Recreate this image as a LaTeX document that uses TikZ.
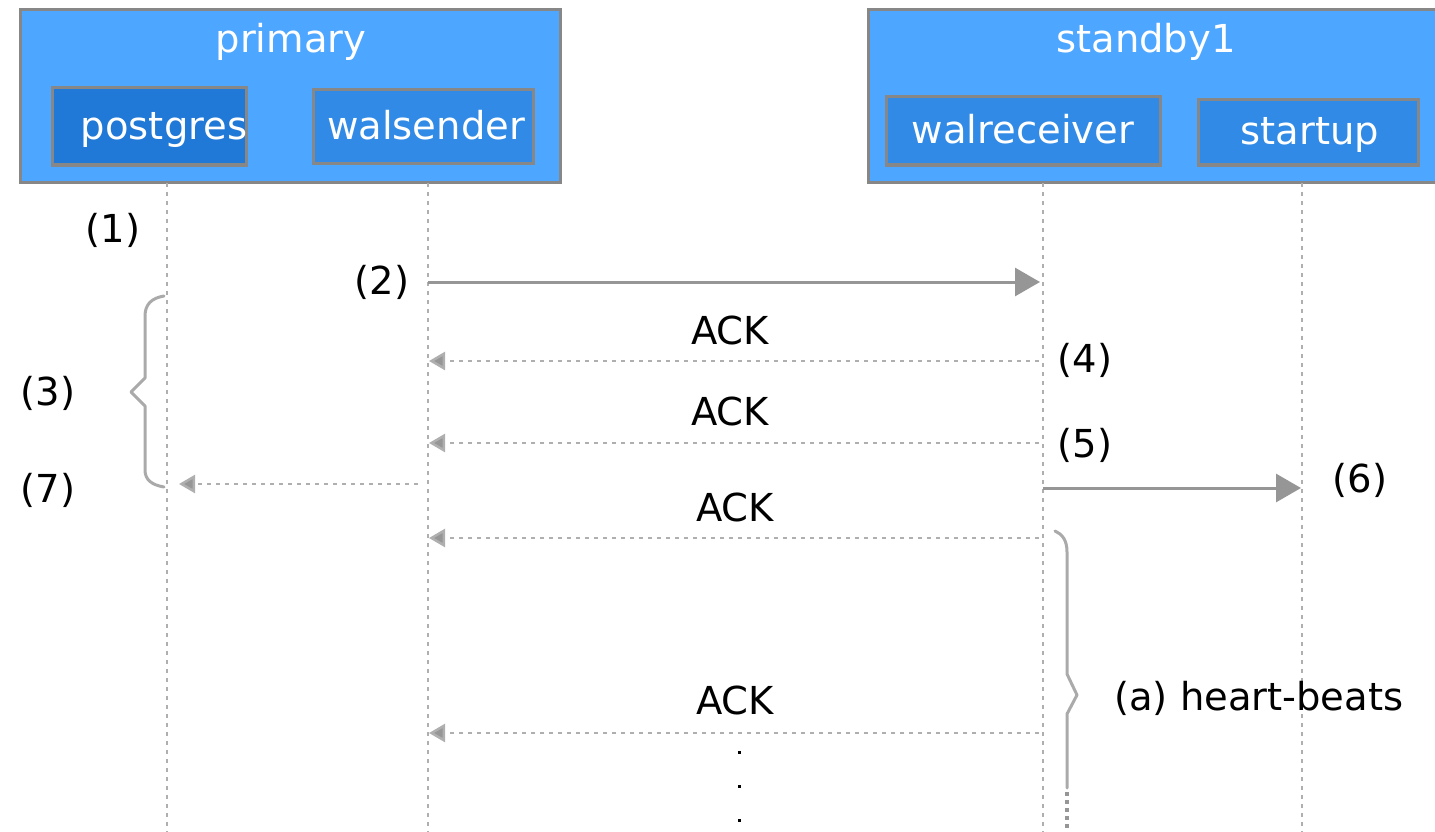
\documentclass[tikz,border=0pt]{standalone}
\usepackage{fontspec}
\setmainfont{DejaVu Sans}
\usetikzlibrary{arrows.meta}
\definecolor{hostblue}{RGB}{77,166,255}
\definecolor{procdark}{RGB}{32,120,215}
\definecolor{procblue}{RGB}{48,138,230}
\definecolor{edgegray}{RGB}{135,135,135}
\definecolor{arrowgray}{RGB}{150,150,150}
\definecolor{dotgray}{RGB}{175,175,175}
\definecolor{bracegray}{RGB}{170,170,170}
\begin{document}
\begin{tikzpicture}[x=1pt,y=-1pt,
  txt/.style={font=\fontsize{38.5}{46}\selectfont, inner sep=0pt},
  boxtxt/.style={txt, text=white, anchor=base},
  host/.style={draw=edgegray, line width=3pt, fill=hostblue, inner sep=0pt},
  proc/.style={draw=edgegray, line width=3pt, fill=procblue, inner sep=0pt},
  life/.style={draw=dotgray, line width=2.5pt, dash pattern=on 4pt off 5pt},
  msg/.style={draw=arrowgray, line width=3pt, -{Triangle[length=25pt,width=28pt]}},
  reply/.style={draw=dotgray, line width=2.5pt, dash pattern=on 4pt off 5pt,
    -{Triangle[length=16pt,width=18pt,fill=arrowgray]}},
  brace/.style={draw=bracegray, line width=3pt, line join=round, line cap=round}]
\useasboundingbox (0,0) rectangle (1435,832);
\clip (0,0) rectangle (1435,832);

% hosts
\node[host, minimum width=540pt, minimum height=172pt] (primary) at (290,96) {};
\node[host, minimum width=580pt, minimum height=172pt] (standby) at (1158,96) {};
\node[boxtxt] (primaryname) at (291,53) {primary};
\node[boxtxt] (standbyname) at (1146,53) {standby1};

% processes
\node[proc, fill=procdark, minimum width=194pt, minimum height=77pt] (postgres) at (149,126.5) {};
\node[proc, minimum width=220pt, minimum height=74pt] (walsender) at (423,127) {};
\node[proc, minimum width=274pt, minimum height=68pt] (walreceiver) at (1023,131) {};
\node[proc, minimum width=220pt, minimum height=65pt] (startup) at (1308,132.5) {};
\node[boxtxt] (postgresname) at (164,140) {postgres};
\node[boxtxt] (walsendername) at (426,140) {walsender};
\node[boxtxt] (walreceivername) at (1023,143) {walreceiver};
\node[boxtxt] (startupname) at (1310,145) {startup};

% lifelines
\coordinate (pgtop) at (167,183);
\coordinate (wstop) at (428,183);
\coordinate (wrtop) at (1043,183);
\coordinate (sutop) at (1302,183);
\coordinate (pgend) at (167,832);
\coordinate (wsend) at (428,832);
\coordinate (wrend) at (1043,832);
\coordinate (suend) at (1302,832);
\draw[life] (pgtop) -- (pgend);
\draw[life] (wstop) -- (wsend);
\draw[life] (wrtop) -- (wrend);
\draw[life] (sutop) -- (suend);

% message end points on the lifelines
\coordinate (m2a) at (wstop |- 0,282);
\coordinate (m2b) at (wrtop |- 0,282);
\coordinate (m4a) at (wrtop |- 0,361);
\coordinate (m4b) at (wstop |- 0,361);
\coordinate (m5a) at (wrtop |- 0,443);
\coordinate (m5b) at (wstop |- 0,443);
\coordinate (m7a) at (418,484);
\coordinate (m7b) at (pgtop |- 0,484);
\coordinate (m6a) at (wrtop |- 0,488);
\coordinate (m6b) at (sutop |- 0,488);
\coordinate (hba) at (wrtop |- 0,538);
\coordinate (hbb) at (wstop |- 0,538);
\coordinate (hca) at (wrtop |- 0,733);
\coordinate (hcb) at (wstop |- 0,733);

% messages
\draw[msg, shorten >=3pt] (m2a) -- (m2b);
\draw[reply, shorten <=4pt, shorten >=1pt] (m4a) -- (m4b);
\draw[reply, shorten <=4pt, shorten >=1pt] (m5a) -- (m5b);
\draw[reply, shorten >=12pt] (m7a) -- (m7b);
\draw[msg, shorten >=1pt] (m6a) -- (m6b);
\draw[reply, shorten <=4pt, shorten >=1pt] (hba) -- (hbb);
\draw[reply, shorten <=4pt, shorten >=1pt] (hca) -- (hcb);

% labels
\node[txt] (l1) at (113,230) {(1)};
\node[txt] (l2) at (382,282) {(2)};
\node[txt] (l3) at (48,393) {(3)};
\node[txt] (l4) at (1085,360) {(4)};
\node[txt] (l5) at (1085,445) {(5)};
\node[txt] (l6) at (1360,480) {(6)};
\node[txt] (l7) at (48,490) {(7)};
\node[txt] (ack4) at (730,330) {ACK};
\node[txt] (ack5) at (730,411) {ACK};
\node[txt] (acka) at (735,507) {ACK};
\node[txt] (ackb) at (735,700) {ACK};
\node[txt, anchor=west] (hb) at (1114,698) {(a) heart-beats};

% continuation dots
\fill (737.5,750.5) rectangle +(3,3);
\fill (737.5,784.5) rectangle +(3,3);
\fill (737.5,818.5) rectangle +(3,3);

% brace grouping (3) to (7)
\draw[brace] (164,296) .. controls (152,298) and (145,304) .. (145,316)
  -- (145,378) -- (131,392) -- (145,406) -- (145,470)
  .. controls (145,480) and (152,485) .. (164,487);

% brace for the heart-beats
\draw[brace] (1055,531) .. controls (1062,534) and (1067,540) .. (1067,552)
  -- (1067,674) -- (1077,695) -- (1067,714) -- (1067,788);
\draw[draw=arrowgray, line width=4pt, dash pattern=on 4pt off 4pt] (1067,792) -- (1067,832);
\end{tikzpicture}
\end{document}
